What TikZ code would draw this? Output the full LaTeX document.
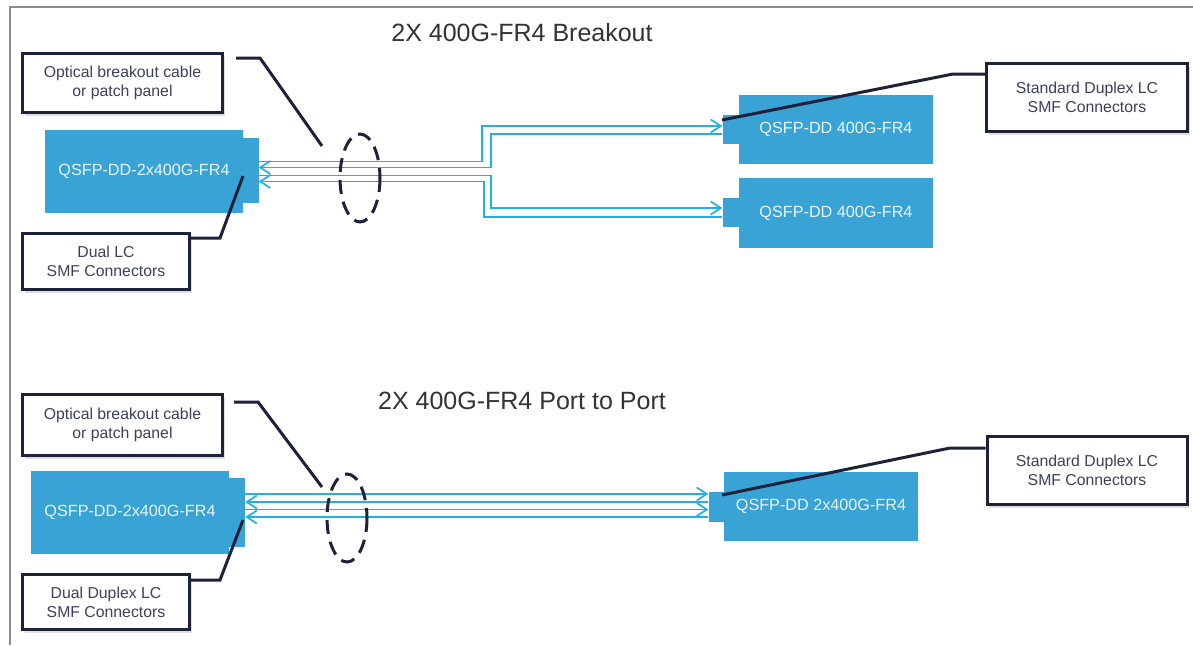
\documentclass[tikz,border=0pt]{standalone}
\usepackage{fontspec}
\setmainfont{Liberation Sans}
\usetikzlibrary{arrows.meta,shadows}
\definecolor{navy}{RGB}{30,33,58}
\definecolor{qblue}{RGB}{58,163,214}
\definecolor{fiber}{RGB}{30,178,228}
\definecolor{labelc}{RGB}{60,64,92}
\definecolor{framec}{RGB}{140,140,140}
\definecolor{titlec}{RGB}{51,51,51}
\begin{document}
\begin{tikzpicture}[x=1pt,y=-1pt,
 lbl/.style={draw=navy,line width=3pt,fill=white,text=labelc,align=center,
   font=\fontsize{15.8}{19}\selectfont,inner sep=0pt,
   drop shadow={shadow xshift=2pt,shadow yshift=-3pt,opacity=0.25}},
 modbox/.style={fill=qblue,inner sep=0pt,text={rgb,255:red,232;green,244;blue,250},
   font=\fontsize{16.2}{19}\selectfont},
 tabbox/.style={fill=qblue,inner sep=0pt},
 callout/.style={draw=navy,line width=3pt},
 fib/.style={draw=fiber,line width=1.7pt},
 tipend/.style={-{Straight Barb[length=10pt,width=13pt]}},
 tipstart/.style={{Straight Barb[length=10pt,width=13pt]}-},
 ring/.style={draw=navy,line width=3pt,dash pattern=on 14pt off 8pt},
 ttl/.style={text=titlec,font=\fontsize{25}{29}\selectfont,inner sep=0pt}
]
\fill[white] (0,0) rectangle (1193,645);
\useasboundingbox (0,0) rectangle (1193,645);
% frame
\draw[framec,line width=2pt] (10,645) -- (10,7) -- (1193,7);

% ===== top section =====
\node[ttl] (t1) at (522,33) {2X 400G-FR4 Breakout};
\node[lbl,minimum width=200pt,minimum height=59pt] (opt1) at (122.5,83) {Optical breakout cable\\or patch panel};
\node[lbl,minimum width=167pt,minimum height=56pt] (dual1) at (106,261.5) {Dual LC\\SMF Connectors};
\node[lbl,minimum width=201pt,minimum height=68pt] (std1) at (1087,97.5) {Standard Duplex LC\\SMF Connectors};

\node[tabbox,minimum width=16pt,minimum height=65pt] (q1tab) at (250.5,170.5) {};
\node[modbox,minimum width=198pt,minimum height=83pt] (q1) at (144,171.5) {QSFP-DD-2x400G-FR4};
\node[tabbox,minimum width=17pt,minimum height=29pt] (r1tab) at (731,129.5) {};
\node[modbox,minimum width=194pt,minimum height=69pt] (r1) at (836,129.5) {QSFP-DD 400G-FR4};
\node[tabbox,minimum width=17pt,minimum height=29pt] (r2tab) at (731,212.5) {};
\node[modbox,minimum width=194pt,minimum height=70pt] (r2) at (836,213) {QSFP-DD 400G-FR4};

% fibers top
\draw[fib,tipend] (q1tab.east |- 0,161.5) -- (482,161.5) -- (482,126) -- (r1tab.west |- 0,126);
\draw[fib,tipstart] (q1tab.east |- 0,167.5) -- (491,167.5) -- (491,134) -- (r1tab.west |- 0,134);
\draw[fib,tipend] (q1tab.east |- 0,175.5) -- (491,175.5) -- (491,208) -- (r2tab.west |- 0,208);
\draw[fib,tipstart] (q1tab.east |- 0,181.5) -- (484,181.5) -- (484,217) -- (r2tab.west |- 0,217);

\draw[ring] (360,178) ellipse [x radius=20, y radius=44];

% callouts top
\coordinate (c1a) at (236,58);
\coordinate (c1b) at (260,58);
\coordinate (c1c) at (322,146);
\draw[callout] (c1a) -- (c1b) -- (c1c);
\coordinate (d1a) at (243,176);
\coordinate (d1b) at (220,238);
\draw[callout] (d1a) -- (d1b) -- (dual1.east |- d1b);
\coordinate (s1a) at (722,120);
\coordinate (s1b) at (953,74);
\draw[callout] (s1a) -- (s1b) -- (std1.west |- s1b);

% ===== bottom section =====
\node[ttl] (t2) at (522,401) {2X 400G-FR4 Port to Port};
\node[lbl,minimum width=200pt,minimum height=61pt] (opt2) at (122.5,425) {Optical breakout cable\\or patch panel};
\node[lbl,minimum width=167pt,minimum height=55pt] (dual2) at (106,602) {Dual Duplex LC\\SMF Connectors};
\node[lbl,minimum width=200pt,minimum height=68pt] (std2) at (1087,470.5) {Standard Duplex LC\\SMF Connectors};

\node[tabbox,minimum width=17pt,minimum height=69pt] (q2tab) at (236.5,512.5) {};
\node[modbox,minimum width=198pt,minimum height=83pt] (q2) at (130,512.5) {QSFP-DD-2x400G-FR4};
\node[tabbox,minimum width=16pt,minimum height=30pt] (p2tab) at (716.5,507) {};
\node[modbox,minimum width=194pt,minimum height=69pt] (p2) at (821,506.5) {QSFP-DD 2x400G-FR4};

% fibers bottom
\draw[fib,tipend] (237,494) -- (p2tab.west |- 0,494);
\draw[fib,tipstart] (q2tab.east |- 0,502) -- (p2tab.west |- 0,502);
\draw[fib,tipend] (237,509.5) -- (p2tab.west |- 0,509.5);
\draw[fib,tipstart] (q2tab.east |- 0,517) -- (p2tab.west |- 0,517);

\draw[ring] (347,518) ellipse [x radius=20, y radius=44];

% callouts bottom
\coordinate (c2a) at (234,402);
\coordinate (c2b) at (258,402);
\coordinate (c2c) at (322,487);
\draw[callout] (c2a) -- (c2b) -- (c2c);
\coordinate (d2a) at (243,520);
\coordinate (d2b) at (220,580);
\draw[callout] (d2a) -- (d2b) -- (dual2.east |- d2b);
\coordinate (s2a) at (722,495);
\coordinate (s2b) at (950,448);
\draw[callout] (s2a) -- (s2b) -- (std2.west |- s2b);
\end{tikzpicture}
\end{document}
